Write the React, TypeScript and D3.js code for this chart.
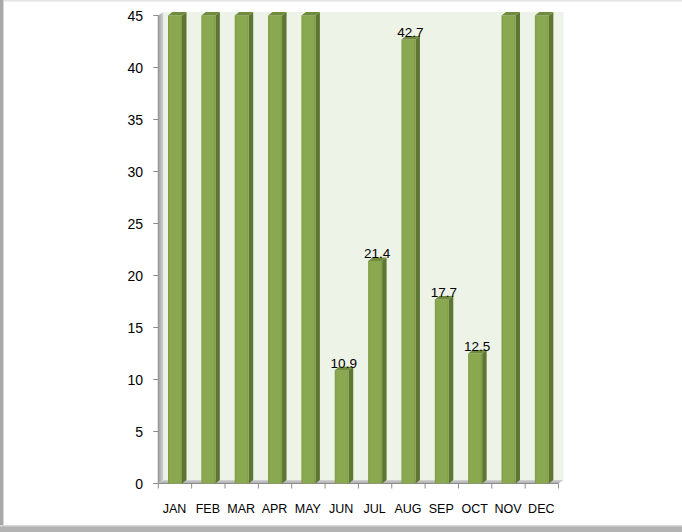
import React from "react";
import * as d3 from "d3";

const months = ["JAN", "FEB", "MAR", "APR", "MAY", "JUN", "JUL", "AUG", "SEP", "OCT", "NOV", "DEC"];
const values = [45, 45, 45, 45, 45, 10.9, 21.4, 42.7, 17.7, 12.5, 45, 45];
const yTicks = [0, 5, 10, 15, 20, 25, 30, 35, 40, 45];

const W = 682;
const H = 532;

export default function App() {
  const x = d3.scaleBand<string>().domain(months).range([158.3, 558.5]).paddingInner(0).paddingOuter(0);
  const y = d3.scaleLinear().domain([0, 45]).range([483.5, 15.5]);
  const dx = 5;
  const dy = 3.5;
  const faceOff = 9.7;
  const faceW = 14;
  const sideW = 4.5;
  const font = "'Liberation Sans', Arial, sans-serif";

  return (
    <svg width={W} height={H} style={{ position: "absolute", left: 0, top: 0 }} fontFamily={font}>
      <defs>
        <linearGradient id="lwall" x1="0" x2="1" y1="0" y2="0">
          <stop offset="0" stopColor="#a0a0a0" />
          <stop offset="1" stopColor="#d2d2d2" />
        </linearGradient>
        <linearGradient id="floor" x1="0" x2="0" y1="0" y2="1">
          <stop offset="0" stopColor="#d4d4d4" />
          <stop offset="1" stopColor="#a8a8a8" />
        </linearGradient>
        <linearGradient id="face" x1="0" x2="1" y1="0" y2="0">
          <stop offset="0" stopColor="#7f9c45" />
          <stop offset="0.15" stopColor="#8aa84f" />
          <stop offset="0.85" stopColor="#8aa84f" />
          <stop offset="1" stopColor="#7d9a44" />
        </linearGradient>
      </defs>
      <rect x={0} y={0} width={W} height={H} fill="#ffffff" />
      {/* frame */}
      <rect x={0} y={0} width={W} height={1.5} fill="#e2e2e2" />
      <rect x={0} y={0} width={3} height={H} fill="#a9a9a9" />
      <rect x={3} y={0} width={1} height={H} fill="#d6d6d6" />
      <rect x={0} y={526} width={W} height={6} fill="#b3b3b3" />
      <rect x={0} y={525} width={W} height={1.5} fill="#d8d8d8" />

      {/* back wall */}
      <rect
        x={x.range()[0] + dx}
        y={y(45) - dy}
        width={x.range()[1] - x.range()[0]}
        height={y(0) - y(45)}
        fill="#eef3e8"
      />
      {/* left wall */}
      <polygon
        points={`${x.range()[0]},${y(45)} ${x.range()[0] + dx},${y(45) - dy} ${x.range()[0] + dx},${y(0) - dy} ${x.range()[0]},${y(0)}`}
        fill="url(#lwall)"
      />
      {/* floor */}
      <polygon
        points={`${x.range()[0]},${y(0)} ${x.range()[0] + dx},${y(0) - dy} ${x.range()[1] + dx},${y(0) - dy} ${x.range()[1]},${y(0)}`}
        fill="url(#floor)"
      />

      {/* y axis */}
      <line x1={x.range()[0]} x2={x.range()[0]} y1={y(45)} y2={y(0)} stroke="#8c8c8c" strokeWidth={1} />
      {yTicks.map((t) => (
        <g key={t}>
          <line x1={x.range()[0] - 5} x2={x.range()[0]} y1={y(t)} y2={y(t)} stroke="#8c8c8c" />
          <text x={143} y={y(t)} dy="0.36em" textAnchor="end" fontSize={14} fill="#000">
            {t}
          </text>
        </g>
      ))}

      {/* x axis */}
      <line x1={x.range()[0]} x2={x.range()[1]} y1={y(0)} y2={y(0)} stroke="#8c8c8c" />
      {[...months, null].map((m, i) => {
        const xx = x.range()[0] + i * x.step();
        return <line key={i} x1={xx} x2={xx} y1={y(0)} y2={y(0) + 5} stroke="#8c8c8c" />;
      })}
      {months.map((m) => (
        <text key={m} x={(x(m) as number) + x.bandwidth() / 2 - 0.5} y={512.5} textAnchor="middle" fontSize={12.5} fill="#000">
          {m}
        </text>
      ))}

      {/* bars */}
      {months.map((m, i) => {
        const v = values[i];
        const x0 = (x(m) as number) + faceOff;
        const x1 = x0 + faceW;
        const yt = y(v);
        const yb = y(0);
        return (
          <g key={m}>
            <polygon
              points={`${x1},${yt} ${x1 + sideW},${yt - dy} ${x1 + sideW},${yb - dy} ${x1},${yb}`}
              fill="#5d7733"
            />
            <rect x={x0} y={yt} width={faceW} height={yb - yt} fill="url(#face)" />
            <polygon
              points={`${x0},${yt} ${x1},${yt} ${x1 + sideW},${yt - dy} ${x0 + sideW},${yt - dy}`}
              fill="#6f8c3d"
            />
          </g>
        );
      })}

      {/* labels */}
      {months.map((m, i) => {
        const v = values[i];
        if (v >= 45) return null;
        const x0 = (x(m) as number) + faceOff;
        return (
          <text key={m} x={x0 + 9} y={y(v) - dy + 1} textAnchor="middle" fontSize={13.5} fill="#000">
            {v}
          </text>
        );
      })}
    </svg>
  );
}
